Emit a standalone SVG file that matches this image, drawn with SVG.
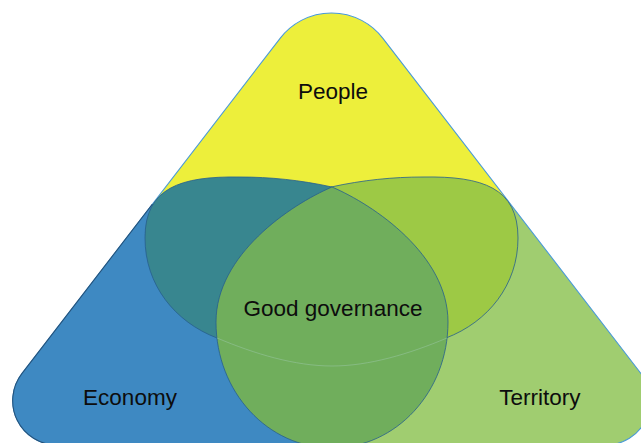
<svg xmlns="http://www.w3.org/2000/svg" xmlns:xlink="http://www.w3.org/1999/xlink" width="641" height="443" viewBox="0 0 641 443">
  <style>
    .lbl { font-family: "Liberation Sans", Arial, sans-serif; font-size: 22.5px; fill: #0d0d0d; text-anchor: middle; }
    .edge { stroke: #275f8f; stroke-width: 1; stroke-opacity: 0.8; }
    .faint { fill: none; stroke: #9cc7a8; stroke-width: 1; stroke-opacity: 0.5; }
  </style>
  <defs>
    <path id="triShape" d="M280.1,38.3 A64.8,64.8 0 0 1 382.9,38.3 L641.1,373.7 A44.3,44.3 0 0 1 606,445 L57,445 A44.3,44.3 0 0 1 21.9,373.7 Z"/>
    <clipPath id="triClip"><use xlink:href="#triShape"/></clipPath>
    <clipPath id="lowerLeft"><rect x="-50" y="204" width="381.5" height="260"/></clipPath>
    <path id="sideEllipse" d="M332,187 C300,180 270,177 240,177 C180,176 145,188 145,238 C145,285 175,322 217,338 C250,351 300,365 350,366 C445,366 410,245 332,187 Z"/>
  </defs>
  <rect width="641" height="443" fill="#ffffff"/>

  <g id="base-triangle">
    <g clip-path="url(#triClip)">
      <g id="people-area"><rect x="-50" y="-50" width="760" height="254" fill="#EDEF3B"/></g>
      <g id="economy-area"><rect x="-50" y="204" width="381.5" height="260" fill="#3E89C2"/></g>
      <g id="territory-area"><rect x="331.5" y="204" width="380" height="260" fill="#A0CD70"/></g>
    </g>
    <use xlink:href="#triShape" fill="none" stroke="#4a9ad8" stroke-width="1.1"/>
    <use xlink:href="#triShape" fill="none" stroke="#24527a" stroke-width="1.1" clip-path="url(#lowerLeft)"/>
  </g>

  <g id="economy-people-overlap">
    <use xlink:href="#sideEllipse" style="fill:#38868F" class="edge"/>
  </g>
  <g id="territory-people-overlap">
    <use xlink:href="#sideEllipse" style="fill:#9DC945" class="edge" transform="translate(663,0) scale(-1,1)"/>
  </g>

  <g id="good-governance">
    <path d="M332,187 C290,205 216,255 216,322 C216,392 268,448 332,448 C396,448 448,392 448,322 C448,255 374,205 332,187 Z" style="fill:#70AE5C" class="edge"/>
    <path class="faint" d="M217,338 C255,354 295,366 332,366 C369,366 409,354 447,338"/>
    <text class="lbl" x="333" y="315.5">Good governance</text>
  </g>

  <g id="people"><text class="lbl" x="333" y="99">People</text></g>
  <g id="economy"><text class="lbl" x="130" y="405">Economy</text></g>
  <g id="territory"><text class="lbl" x="540" y="404.5">Territory</text></g>
</svg>
